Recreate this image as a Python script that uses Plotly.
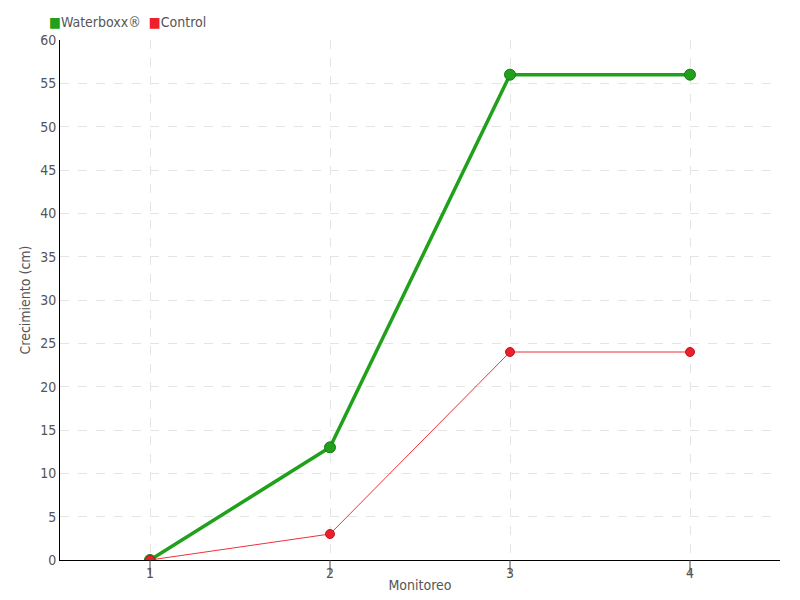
import plotly.graph_objects as go

monitoreo = [1, 2, 3, 4]
waterboxx = [0, 13, 56, 56]
control = [0, 3, 24, 24]
series_names = ["Waterboxx®", "Control"]

font_family = "Liberation Sans Narrow, DejaVu Sans Condensed, sans-serif"
green = "#21a11b"
red = "#ec1f2b"
txt = "#555555"

fig = go.Figure()
fig.add_trace(go.Scatter(
    x=monitoreo, y=waterboxx, name=series_names[0], mode="lines+markers",
    line=dict(color=green, width=3.5), showlegend=False,
    marker=dict(size=11, color=green, line=dict(color="#187a14", width=1)),
))
fig.add_trace(go.Scatter(
    x=monitoreo, y=control, name=series_names[1], mode="lines+markers",
    line=dict(color="#f0303a", width=1), showlegend=False,
    marker=dict(size=9, color=red, line=dict(color="#c01820", width=1)),
))

# outside tick marks at each category, drawn through the x axis
for v in monitoreo:
    fig.add_shape(type="line", xref="x", yref="y domain", x0=v, x1=v, y0=0, y1=-0.027,
                  line=dict(color="#444444", width=1), layer="above")

# legend as text
legend_text = (f"<span style='color:{green}'>■</span>{series_names[0]}  "
               f"<span style='color:{red}'>■</span>{series_names[1]}")
fig.add_annotation(text=legend_text, xref="paper", yref="paper", x=-0.018, y=1.035,
                   xanchor="left", yanchor="middle", showarrow=False,
                   font=dict(size=14, color=txt, family=font_family))

fig.update_layout(
    width=800, height=600,
    margin=dict(l=52, r=28, t=32, b=48, autoexpand=False),
    paper_bgcolor="white", plot_bgcolor="white",
    font=dict(family=font_family, size=14, color=txt),
    showlegend=False,
    xaxis=dict(
        range=[0.5, 4.5], tickvals=monitoreo, ticktext=[str(v) for v in monitoreo],
        showgrid=True, gridcolor="#e4e4e4", griddash="dash", gridwidth=1,
        showline=True, linecolor="#000000", linewidth=1,
        ticks="", zeroline=False, automargin=False,
        title=dict(text="Monitoreo", standoff=0, font=dict(size=14, color=txt)),
    ),
    yaxis=dict(
        range=[0, 60], dtick=5, automargin=False,
        showgrid=True, gridcolor="#e4e4e4", griddash="dash", gridwidth=1,
        showline=True, linecolor="#000000", linewidth=1,
        ticks="", zeroline=False,
        title=dict(text="Crecimiento (cm)", standoff=6, font=dict(size=14, color=txt)),
    ),
)

fig.write_html("out.html")
